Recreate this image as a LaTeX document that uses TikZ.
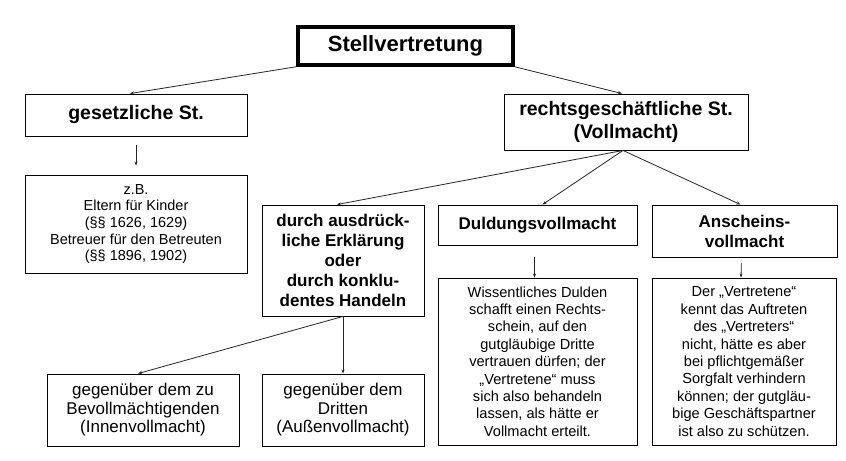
\documentclass[tikz,border=0pt]{standalone}
\usepackage{fontspec}
\setmainfont{Liberation Sans}
\usetikzlibrary{arrows.meta}
\begin{document}
\begin{tikzpicture}[x=1bp,y=-1bp,
  box/.style={draw=black,line width=0.9bp,rectangle,inner sep=0pt,align=center},
  bigtxt/.style={font=\fontsize{19.5bp}{23bp}\selectfont\bfseries},
  midtxt/.style={font=\fontsize{17bp}{20bp}\selectfont\bfseries},
  smalltxt/.style={font=\fontsize{14.6bp}{17.4bp}\selectfont},
  lowtxt/.style={font=\fontsize{17bp}{18.5bp}\selectfont},
  conn/.style={draw=black!85,line width=0.8bp,-{Stealth[length=4bp,width=3bp]}}]
\useasboundingbox[fill=white] (0,0) rectangle (846,461);
\node[box,line width=3.5bp,minimum width=215bp,minimum height=38bp,font=\fontsize{22bp}{26bp}\selectfont\bfseries] (top) at (405.5,46) {Stellvertretung};
\node[box,bigtxt,minimum width=222bp,minimum height=42bp] (ges) at (136,115) {gesetzliche St.};
\node[box,font=\fontsize{14.5bp}{16.6bp}\selectfont,minimum width=222bp,minimum height=98bp] (zb) at (136,224) {z.B.\\Eltern für Kinder\\(§§ 1626, 1629)\\Betreuer für den Betreuten\\(§§ 1896, 1902)};
\node[box,bigtxt,minimum width=244bp,minimum height=56bp] (rg) at (626,122) {rechtsgeschäftliche St.\\(Vollmacht)};
\node[box,midtxt,minimum width=162bp,minimum height=111bp] (durch) at (343,260.5) {durch ausdrück-\\liche Erklärung\\oder\\durch konklu-\\dentes Handeln};
\node[box,midtxt,minimum width=199bp,minimum height=40bp] (duld) at (537.5,225) {Duldungsvollmacht};
\node[box,midtxt,minimum width=185bp,minimum height=52bp] (ansch) at (744.5,231) {Anscheins-\\vollmacht};
\node[box,smalltxt,minimum width=199bp,minimum height=167bp] (wiss) at (537.5,361.5) {Wissentliches Dulden\\schafft einen Rechts-\\schein, auf den\\gutgläubige Dritte\\vertrauen dürfen; der\\„Vertretene“ muss\\sich also behandeln\\lassen, als hätte er\\Vollmacht erteilt.};
\node[box,smalltxt,minimum width=184bp,minimum height=167bp] (der) at (744,361.5) {Der „Vertretene“\\kennt das Auftreten\\des „Vertreters“\\nicht, hätte es aber\\bei pflichtgemäßer\\Sorgfalt verhindern\\können; der gutgläu-\\bige Geschäftspartner\\ist also zu schützen.};
\node[box,lowtxt,minimum width=192bp,minimum height=72bp] (inn) at (143,410) {gegenüber dem zu\\Bevollmächtigenden\\(Innenvollmacht)};
\node[box,lowtxt,minimum width=162bp,minimum height=72bp] (aus) at (343,410) {gegenüber dem\\Dritten\\(Außenvollmacht)};
\draw[conn] (top.south west) -- ([xshift=-6bp]ges.north);
\draw[conn] (top.south east) -- ([xshift=-4bp]rg.north);
\draw[conn,shorten <=9bp,shorten >=9bp] (ges.south) -- (zb.north);
\draw[conn] ([xshift=-3bp]rg.south) -- ([xshift=-6bp]durch.north);
\draw[conn] ([xshift=-3bp]rg.south) -- ([xshift=5bp]duld.north);
\draw[conn] ([xshift=-3bp]rg.south) -- ([xshift=-4bp]ansch.north);
\draw[conn,shorten <=12bp] ([xshift=-3bp]duld.south) -- ([xshift=-3bp]wiss.north);
\draw[conn,shorten <=6bp] ([xshift=-3bp]ansch.south) -- ([xshift=-3bp]der.north);
\draw[conn] (durch.south) -- ([xshift=-5bp]inn.north);
\draw[conn] (durch.south) -- (aus.north);
\end{tikzpicture}
\end{document}
